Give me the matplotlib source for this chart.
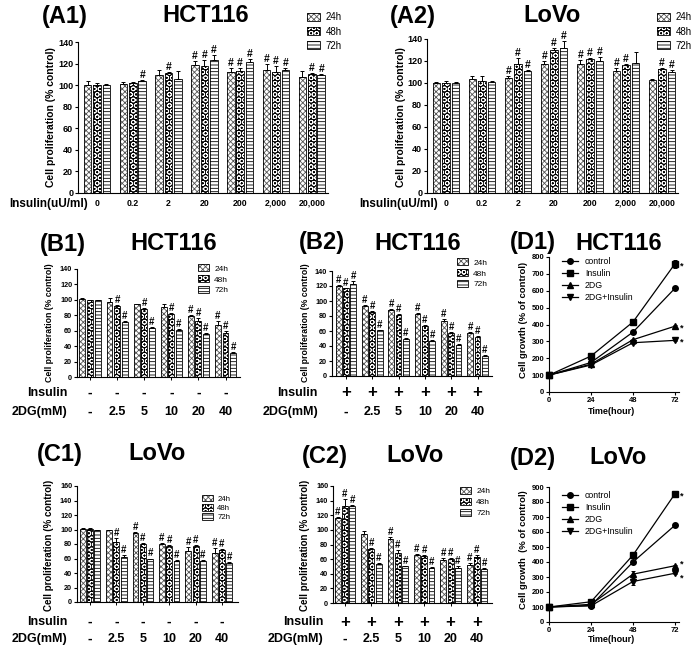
import numpy as np
import matplotlib
matplotlib.use('Agg')
import matplotlib.pyplot as plt
from matplotlib.patches import Patch
from matplotlib.lines import Line2D
from matplotlib.transforms import Affine2D, blended_transform_factory

plt.rcParams['font.family'] = 'Liberation Sans'
plt.rcParams['font.weight'] = 'bold'
plt.rcParams['hatch.linewidth'] = 0.6

# ---------------- data ----------------
times = ['24h', '48h', '72h']
insulin_doses = ['0', '0.2', '2', '20', '200', '2,000', '20,000']
dg_doses = ['-', '2.5', '5', '10', '20', '40']

a1_mean = [[100, 101, 109, 119, 112, 114, 108],
           [100, 102, 111, 118, 113, 112, 110],
           [100, 104, 106, 123, 121, 114, 109]]
a1_err = [[4, 2, 5, 3, 4, 6, 5],
          [2, 1, 1, 5, 3, 6, 1],
          [1, 1, 7, 5, 3, 2, 1]]
a1_sig = [[0, 0, 0, 1, 1, 1, 0],
          [0, 0, 1, 1, 1, 1, 1],
          [0, 1, 0, 1, 1, 1, 1]]

a2_mean = [[100, 104, 105, 117, 117, 111, 103],
           [100, 102, 117, 130, 122, 116, 113],
           [100, 101, 111, 132, 120, 118, 110]]
a2_err = [[1, 2, 1, 3, 4, 3, 1],
          [2, 4, 6, 2, 1, 1, 1],
          [1, 1, 1, 6, 4, 10, 2]]
a2_sig = [[0, 0, 1, 1, 1, 1, 0],
          [0, 0, 1, 1, 1, 1, 1],
          [0, 0, 1, 1, 1, 0, 1]]

b1_mean = [[101, 97, 94, 91, 79, 68],
           [100, 92, 88, 82, 73, 57],
           [100, 71, 64, 61, 56, 31]]
b1_err = [[1, 5, 1, 4, 1, 4],
          [0, 1, 1, 1, 3, 3],
          [0, 1, 1, 1, 1, 1]]
b1_sig = [[0, 0, 0, 0, 1, 1],
          [0, 1, 1, 1, 1, 1],
          [0, 1, 1, 1, 1, 1]]

b2_mean = [[120, 94, 88, 83, 73, 58],
           [117, 86, 82, 67, 58, 52],
           [123, 61, 50, 47, 42, 27]]
b2_err = [[1, 1, 1, 1, 3, 1],
          [1, 1, 1, 1, 1, 2],
          [4, 1, 1, 1, 1, 1]]
b2_sig = [[1] * 6, [1] * 6, [1] * 6]

c1_mean = [[101, 99, 95, 80, 71, 67],
           [101, 83, 80, 77, 77, 72],
           [100, 62, 59, 57, 57, 54]]
c1_err = [[1, 1, 1, 1, 5, 7],
          [1, 5, 1, 1, 1, 1],
          [0, 3, 1, 1, 1, 1]]
c1_sig = [[0, 0, 1, 1, 1, 1],
          [0, 1, 1, 1, 1, 1],
          [0, 1, 1, 1, 1, 1]]

c2_mean = [[116, 95, 88, 66, 59, 52],
           [132, 74, 68, 64, 60, 63],
           [132, 54, 50, 48, 48, 47]]
c2_err = [[1, 4, 2, 1, 3, 3],
          [10, 1, 5, 1, 1, 3],
          [2, 1, 1, 1, 3, 1]]
c2_sig = [[1, 0, 1, 1, 1, 1],
          [1, 1, 1, 1, 1, 1],
          [1, 1, 1, 1, 1, 1]]

hours = [0, 24, 48, 72]
groups = ['control', 'Insulin', '2DG', '2DG+Insulin']
d1_vals = [[100, 175, 355, 615],
           [100, 213, 415, 760],
           [100, 165, 310, 390],
           [100, 160, 292, 306]]
d1_err = [[0, 5, 5, 5],
          [0, 5, 5, 25],
          [0, 5, 5, 5],
          [0, 5, 5, 5]]
d1_star = [0, 1, 1, 1]

d2_vals = [[100, 110, 400, 645],
           [100, 135, 446, 855],
           [100, 118, 319, 375],
           [100, 108, 270, 325]]
d2_err = [[0, 5, 5, 5],
          [0, 5, 20, 15],
          [0, 5, 20, 5],
          [0, 5, 25, 5]]
d2_star = [0, 1, 1, 1]

# ---------------- figure helpers ----------------
W, H = 700, 652
fig = plt.figure(figsize=(W / 100, H / 100), dpi=100)
PX = Affine2D().scale(1 / W, -1 / H).translate(0, 1) + fig.transFigure

BAR_STYLES = [('white', '#555555', 'xxxxxx'),
              ('black', 'white', 'OOO'),
              ('white', 'black', '-----')]
MARKERS = ['o', 's', '^', 'v']


def add_ax(l, t, r, b):
    ax = fig.add_axes([l / W, 1 - b / H, (r - l) / W, (b - t) / H])
    for s in ['top', 'right']:
        ax.spines[s].set_visible(False)
    for s in ['left', 'bottom']:
        ax.spines[s].set_linewidth(0.8)
    return ax


def ftext(x, y, s, **kw):
    fig.text(x, y, s, transform=PX, ha=kw.pop('ha', 'center'),
             va=kw.pop('va', 'center'), **kw)


def title(x1, x2, y, tag, name):
    ftext(x1, y, tag, fontsize=17)
    ftext(x2, y, name, fontsize=17)


def bar_legend(ax, x, y, fs, spacing):
    handles = []
    for fc, hc, hatch in BAR_STYLES:
        handles.append((Patch(facecolor=fc, edgecolor=hc, hatch=hatch, lw=0),
                        Patch(fill=False, edgecolor='black', lw=0.6)))
    ax.legend(handles, times, loc='upper left', bbox_to_anchor=(x, y),
              bbox_transform=PX, frameon=False,
              handlelength=1.35, handleheight=0.9, handletextpad=0.6,
              labelspacing=spacing, borderpad=0, borderaxespad=0,
              prop={'weight': 'normal', 'size': fs})


def bar_panel(box, c0, step, means, errs, sigs, ymax, fs, bw, off, sig_fs):
    l, t, r, b = box
    ax = add_ax(l, t, r, b)
    x = np.arange(len(means[0]))
    for k, (fc, hc, hatch) in enumerate(BAR_STYLES):
        xs = x + (k - 1) * off
        ax.bar(xs, means[k], bw, color=fc, edgecolor=hc, hatch=hatch, lw=0)
        ax.bar(xs, means[k], bw, fill=False, edgecolor='black', lw=0.6)
        ax.errorbar(xs, means[k], yerr=[np.zeros(len(x)), errs[k]], fmt='none',
                    ecolor='black', elinewidth=0.7, capsize=1.5, capthick=0.7)
        for xi, m, e, sg in zip(xs, means[k], errs[k], sigs[k]):
            if sg:
                ax.text(xi, m + e, '#', ha='center', va='bottom',
                        fontsize=sig_fs)
    ax.set_xlim((l - c0) / step, (r - c0) / step)
    ax.set_ylim(0, ymax)
    ax.set_yticks(np.arange(0, ymax + 1, 20))
    ax.tick_params(axis='y', length=2.5, width=0.8, pad=1, labelsize=fs)
    ax.set_xticks(x)
    return ax


def dose_rows(ax, right, y_ins, y_dg, sign, doses):
    ax.set_xticklabels([])
    ax.tick_params(axis='x', length=2, width=0.7)
    tr = blended_transform_factory(ax.transData, PX)
    ftext(right, y_ins, 'Insulin', ha='right', fontsize=9)
    ftext(right, y_dg, '2DG(mM)', ha='right', fontsize=9)
    for i, d in enumerate(doses):
        ax.text(i, y_ins, sign, transform=tr, ha='center', va='center',
                fontsize=12 if sign == '+' else 10, clip_on=False)
        ax.text(i, y_dg, d, transform=tr, ha='center', va='center',
                fontsize=9 if d != '-' else 10, clip_on=False)


def line_panel(box, vals, errs, stars, ymax, leg_xy, ylab_xy, xlab_y, ylab,
               star_dy):
    l, t, r, b = box
    ax = add_ax(l, t, r, b)
    for k, (v, e) in enumerate(zip(vals, errs)):
        ms = 4.5 if MARKERS[k] == 's' else 4
        ax.errorbar(hours, v, yerr=e, color='black', lw=0.9, marker=MARKERS[k],
                    ms=ms, elinewidth=0.7, capsize=1.5, capthick=0.7,
                    clip_on=False, label=groups[k])
        if stars[k]:
            ax.annotate('*', (hours[-1], v[-1]), xytext=(5, star_dy[k]),
                        textcoords='offset points', ha='center', va='center',
                        fontsize=6.5)
    ax.set_xlim(0, 74)
    ax.set_ylim(0, ymax)
    ax.set_xticks(hours)
    ax.set_yticks(np.arange(0, ymax + 1, 100))
    ax.tick_params(axis='both', length=2.5, width=0.8, pad=1, labelsize=5.5)
    handles = [Line2D([], [], color='black', lw=0.9, marker=m,
                      ms=4.5 if m == 's' else 4) for m in MARKERS]
    ax.legend(handles, groups, loc='upper left', bbox_to_anchor=leg_xy,
              bbox_transform=PX, frameon=False, handlelength=1.8,
              handletextpad=0.8, labelspacing=0.35, borderpad=0,
              borderaxespad=0, prop={'weight': 'normal', 'size': 6.3})
    ftext(ylab_xy[0], ylab_xy[1], ylab, rotation=90, fontsize=6.8)
    ftext((l + r) / 2 - 2, xlab_y, 'Time(hour)', fontsize=6.5)
    return ax


# ---------------- row A ----------------
ax_a1 = bar_panel((78, 42, 328, 193), 97, 35.8, a1_mean, a1_err, a1_sig,
                  140, 6.5, 0.21, 0.264, 7.5)
ax_a2 = bar_panel((427, 39, 678, 193), 446, 36.0, a2_mean, a2_err, a2_sig,
                  140, 6.5, 0.21, 0.264, 7.5)
for ax, right in [(ax_a1, 88), (ax_a2, 438)]:
    ax.set_xticklabels(insulin_doses, fontsize=6.3)
    ax.tick_params(axis='x', length=0, pad=4)
    ftext(right, 203.5, 'Insulin(uU/ml)', ha='right', fontsize=8.5)
bar_legend(ax_a1, 307, 12.5, 7, 0.42)
bar_legend(ax_a2, 657, 12.5, 7, 0.42)
ftext(51, 117, 'Cell proliferation (% control)', rotation=90, fontsize=7.5)
ftext(401, 117, 'Cell proliferation (% control)', rotation=90, fontsize=7.5)
title(65, 206, 16, '(A1)', 'HCT116')
title(413, 552, 16, '(A2)', 'LoVo')

# ---------------- row B ----------------
ax_b1 = bar_panel((77, 269, 240, 377), 90, 27.1, b1_mean, b1_err, b1_sig,
                  140, 5.2, 0.22, 0.28, 7)
ax_b2 = bar_panel((332, 271, 492, 376), 346, 26.3, b2_mean, b2_err, b2_sig,
                  140, 5.2, 0.22, 0.28, 7)
dose_rows(ax_b1, 67, 393, 412, '-', dg_doses)
dose_rows(ax_b2, 318, 393, 412, '+', dg_doses)
bar_legend(ax_b1, 198, 264.5, 6, 0.3)
bar_legend(ax_b2, 457, 258.5, 6, 0.3)
ftext(50, 323, 'Cell proliferation (% control)', rotation=90, fontsize=6.3)
ftext(305, 323, 'Cell proliferation (% control)', rotation=90, fontsize=6.3)
title(63, 174, 244, '(B1)', 'HCT116')
title(322, 418, 243, '(B2)', 'HCT116')

# ---------------- row C ----------------
ax_c1 = bar_panel((77, 486, 238, 602), 90, 26.4, c1_mean, c1_err, c1_sig,
                  160, 5.2, 0.22, 0.28, 7)
ax_c2 = bar_panel((333, 486, 492, 603), 345, 26.4, c2_mean, c2_err, c2_sig,
                  160, 5.2, 0.22, 0.28, 7)
dose_rows(ax_c1, 67, 622, 639, '-', dg_doses)
dose_rows(ax_c2, 323, 622, 639, '+', dg_doses)
bar_legend(ax_c1, 202, 495, 5.6, 0.15)
bar_legend(ax_c2, 460, 487, 6, 0.3)
ftext(49, 545, 'Cell proliferation (% control)', rotation=90, fontsize=7)
ftext(305, 545, 'Cell proliferation (% control)', rotation=90, fontsize=7)
title(60, 157, 454, '(C1)', 'LoVo')
title(325, 415, 456, '(C2)', 'LoVo')

# ---------------- column D ----------------
line_panel((549, 257, 678.5, 392), d1_vals, d1_err, d1_star, 800,
           (562, 257), (523, 320), 412, 'Cell growth (% of control)',
           [0, -1.5, -1.5, -1.5])
line_panel((549, 487, 678.5, 622), d2_vals, d2_err, d2_star, 900,
           (562, 491), (523, 550), 640, 'Cell growth  (% of control)',
           [0, -1.5, 1, -3.5])
title(533, 619, 243, '(D1)', 'HCT116')
title(533, 618, 458, '(D2)', 'LoVo')

fig.savefig('out.png', dpi=100)
